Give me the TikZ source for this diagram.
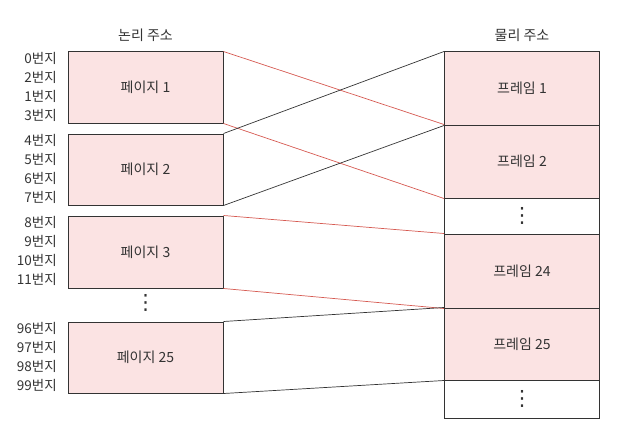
\documentclass[tikz,border=0pt]{standalone}
\usepackage{fontspec}
\setmainfont{Noto Sans CJK KR}
\newfontfamily\dotsfont{DejaVu Sans}
\usetikzlibrary{calc}
\definecolor{pagepink}{HTML}{FBE3E3}
\definecolor{linkred}{HTML}{D65A52}
\definecolor{ink}{HTML}{333333}
\tikzset{
  pagebox/.style={draw=ink, fill=pagepink, line width=1pt, minimum width=155pt, inner sep=0pt, text=ink, font=\fontsize{14}{16}\selectfont},
  blankbox/.style={pagebox, fill=white},
  addr/.style={anchor=east, inner sep=0pt, text=ink, font=\fontsize{13.5}{15}\selectfont},
  vdot/.style={text=ink, inner sep=0pt, font=\dotsfont\fontsize{21}{21}\selectfont},
  redlink/.style={draw=linkred, line width=0.7pt},
  blacklink/.style={draw=ink, line width=0.7pt},
}
\begin{document}
\begin{tikzpicture}[x=1pt, y=-1pt]
\useasboundingbox (0,0) rectangle (628,436);
% titles
\node[text=ink, font=\fontsize{14}{16}\selectfont] (ltitle) at (145.5,35) {논리 주소};
\node[text=ink, font=\fontsize{14}{16}\selectfont] (rtitle) at (522,35) {물리 주소};
% logical pages
\node[pagebox, minimum height=71pt] (p1) at (145.5,87.5) {페이지 1};
\node[pagebox, minimum height=71pt] (p2) at (145.5,169.5) {페이지 2};
\node[pagebox, minimum height=72pt] (p3) at (145.5,252) {페이지 3};
\node[vdot] (ldots) at (145.5,303) {⋮};
\node[pagebox, minimum height=71pt] (p25) at (145.5,357.5) {페이지 25};
\foreach \pg/\a/\b/\c/\d in {p1/0/2/1/3, p2/4/5/6/7, p3/8/9/10/11, p25/96/97/98/99}
  \foreach \n [count=\k from 0] in {\a,\b,\c,\d}
    \node[addr] (a-\pg-\k) at ($(\pg.north west)+(-10.5,6.5+19.3*\k)$) {\n{}번지};
% physical frames
\node[pagebox, minimum height=73pt] (f1) at (522,88.5) {프레임 1};
\node[pagebox, minimum height=73pt] (f2) at (522,161.5) {프레임 2};
\node[blankbox, minimum height=36pt] (fd1) at (522,216) {};
\node[pagebox, minimum height=74pt] (f24) at (522,271) {프레임 24};
\node[pagebox, minimum height=72pt] (f25) at (522,344) {프레임 25};
\node[blankbox, minimum height=38pt] (fd2) at (522,399) {};
\node[vdot] (rdots1) at (fd1) {⋮};
\node[vdot] (rdots2) at (fd2) {⋮};
% mapping
\draw[redlink] (p1.north east) -- (f2.north west);
\draw[redlink] (p1.south east) -- (f2.south west);
\draw[blacklink] (p2.north east) -- (f1.north west);
\draw[blacklink] (p2.south east) -- (f1.south west);
\draw[redlink] (p3.north east) -- (f24.north west);
\draw[redlink] (p3.south east) -- (f24.south west);
\draw[blacklink] (p25.north east) -- (f25.north west);
\draw[blacklink] (p25.south east) -- (f25.south west);
\end{tikzpicture}
\end{document}
